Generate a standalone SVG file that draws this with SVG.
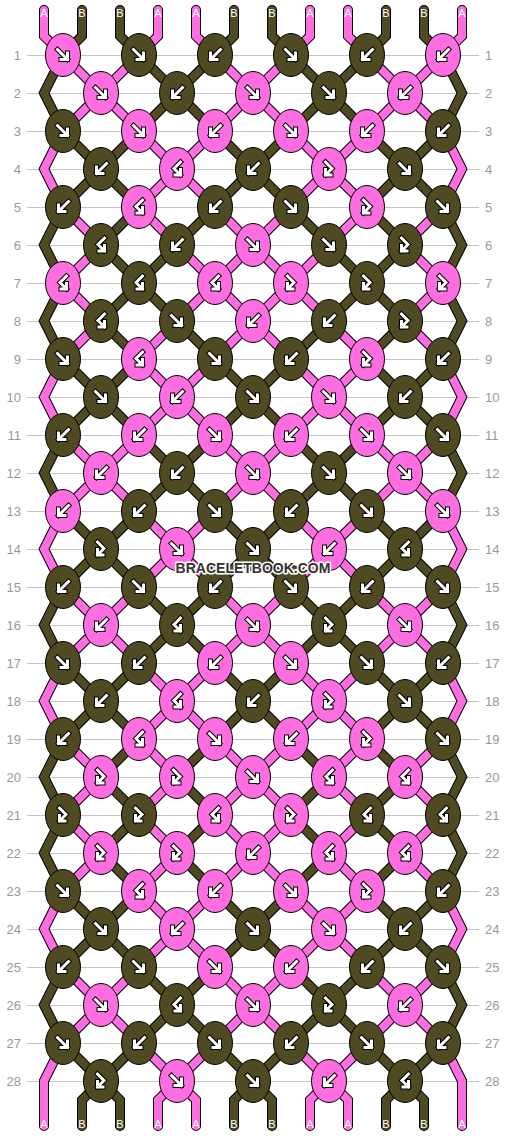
<svg xmlns="http://www.w3.org/2000/svg" xmlns:xlink="http://www.w3.org/1999/xlink" width="506" height="1136" viewBox="0 0 506 1136">
<style>
.num{font-family:"Liberation Sans",Arial,sans-serif;font-size:13px;fill:#999}
.lab{font-family:"Liberation Sans",Arial,sans-serif;font-size:11px;fill:#fff;text-anchor:middle}
.kp{fill:#ff6ee0;stroke:#000;stroke-width:1}
.kd{fill:#4f4a21;stroke:#000;stroke-width:1}
.ab{fill:none;stroke:#000;stroke-width:5;stroke-linecap:square;stroke-linejoin:miter}
.aw{fill:none;stroke:#fff;stroke-width:3;stroke-linecap:square;stroke-linejoin:miter}
</style>
<defs>
<g id="aF"><path class="ab" d="M-5.5 -5.5L4.5 4.5M4.5 -2V4.5H-2"/><path class="aw" d="M-5.5 -5.5L4.5 4.5M4.5 -2V4.5H-2"/></g>
<g id="aFB"><path class="ab" d="M-3.5 -7L3 -0.5L-3.5 6M-3.5 0.5V6H2"/><path class="aw" d="M-3.5 -7L3 -0.5L-3.5 6M-3.5 0.5V6H2"/></g>
<g id="pF"><ellipse class="kp" rx="17.5" ry="21.5"/><use xlink:href="#aF"/></g>
<g id="pB"><ellipse class="kp" rx="17.5" ry="21.5"/><use xlink:href="#aF" transform="scale(-1 1)"/></g>
<g id="pFB"><ellipse class="kp" rx="17.5" ry="21.5"/><use xlink:href="#aFB"/></g>
<g id="pBF"><ellipse class="kp" rx="17.5" ry="21.5"/><use xlink:href="#aFB" transform="scale(-1 1)"/></g>
<g id="dF"><ellipse class="kd" rx="17.5" ry="21.5"/><use xlink:href="#aF"/></g>
<g id="dB"><ellipse class="kd" rx="17.5" ry="21.5"/><use xlink:href="#aF" transform="scale(-1 1)"/></g>
<g id="dFB"><ellipse class="kd" rx="17.5" ry="21.5"/><use xlink:href="#aFB"/></g>
<g id="dBF"><ellipse class="kd" rx="17.5" ry="21.5"/><use xlink:href="#aFB" transform="scale(-1 1)"/></g>
<polyline id="s0" points="44,10 44,36 63,55 101,93 139,131 177,169 139,207 177,245 215,283 177,321 139,359 177,397 215,435 253,473 291,511 329,549 367,587 405,625 443,663 462,701 443,739 405,777 443,815 405,853 443,891 462,929 443,967 405,1005 367,1043 329,1081 310,1100 310,1126"/>
<polyline id="s1" points="82,10 82,36 63,55 44,93 63,131 101,169 139,207 101,245 139,283 101,321 139,359 101,397 63,435 44,473 63,511 101,549 63,587 44,625 63,663 101,701 139,739 101,777 139,815 101,853 139,891 101,929 63,967 44,1005 63,1043 101,1081 82,1100 82,1126"/>
<polyline id="s2" points="120,10 120,36 139,55 177,93 215,131 253,169 291,207 329,245 367,283 329,321 291,359 253,397 215,435 177,473 139,511 101,549 139,587 177,625 139,663 101,701 63,739 44,777 63,815 44,853 63,891 101,929 139,967 177,1005 139,1043 101,1081 120,1100 120,1126"/>
<polyline id="s3" points="158,10 158,36 139,55 101,93 63,131 44,169 63,207 101,245 63,283 101,321 63,359 44,397 63,435 101,473 139,511 177,549 215,587 253,625 291,663 329,701 291,739 253,777 215,815 253,853 291,891 329,929 367,967 405,1005 443,1043 462,1081 462,1126"/>
<polyline id="s4" points="196,10 196,36 215,55 253,93 291,131 329,169 291,207 253,245 215,283 253,321 291,359 329,397 367,435 405,473 443,511 462,549 443,587 405,625 367,663 329,701 367,739 329,777 367,815 329,853 367,891 329,929 291,967 253,1005 215,1043 177,1081 158,1100 158,1126"/>
<polyline id="s5" points="234,10 234,36 215,55 177,93 139,131 101,169 63,207 44,245 63,283 44,321 63,359 101,397 139,435 177,473 215,511 253,549 291,587 329,625 291,663 253,701 215,739 177,777 215,815 177,853 215,891 253,929 291,967 329,1005 291,1043 253,1081 234,1100 234,1126"/>
<polyline id="s6" points="272,10 272,36 291,55 329,93 367,131 405,169 443,207 462,245 443,283 462,321 443,359 405,397 367,435 329,473 291,511 253,549 215,587 177,625 215,663 253,701 291,739 329,777 291,815 329,853 291,891 253,929 215,967 177,1005 215,1043 253,1081 272,1100 272,1126"/>
<polyline id="s7" points="310,10 310,36 291,55 253,93 215,131 177,169 215,207 253,245 291,283 253,321 215,359 177,397 139,435 101,473 63,511 44,549 63,587 101,625 139,663 177,701 139,739 177,777 139,815 177,853 139,891 177,929 215,967 253,1005 291,1043 329,1081 348,1100 348,1126"/>
<polyline id="s8" points="348,10 348,36 367,55 405,93 443,131 462,169 443,207 405,245 443,283 405,321 443,359 462,397 443,435 405,473 367,511 329,549 291,587 253,625 215,663 177,701 215,739 253,777 291,815 253,853 215,891 177,929 139,967 101,1005 63,1043 44,1081 44,1126"/>
<polyline id="s9" points="386,10 386,36 367,55 329,93 291,131 253,169 215,207 177,245 139,283 177,321 215,359 253,397 291,435 329,473 367,511 405,549 367,587 329,625 367,663 405,701 443,739 462,777 443,815 462,853 443,891 405,929 367,967 329,1005 367,1043 405,1081 386,1100 386,1126"/>
<polyline id="s10" points="424,10 424,36 443,55 462,93 443,131 405,169 367,207 405,245 367,283 405,321 367,359 405,397 443,435 462,473 443,511 405,549 443,587 462,625 443,663 405,701 367,739 405,777 367,815 405,853 367,891 405,929 443,967 462,1005 443,1043 405,1081 424,1100 424,1126"/>
<polyline id="s11" points="462,10 462,36 443,55 405,93 367,131 329,169 367,207 329,245 291,283 329,321 367,359 329,397 291,435 253,473 215,511 177,549 139,587 101,625 63,663 44,701 63,739 101,777 63,815 101,853 63,891 44,929 63,967 101,1005 139,1043 177,1081 196,1100 196,1126"/>
</defs>
<rect width="506" height="1136" fill="#fff"/>
<g id="grid">
<path stroke="#c4c4c4" stroke-width="1" fill="none" d="M27 55.5H479M27 93.5H479M27 131.5H479M27 169.5H479M27 207.5H479M27 245.5H479M27 283.5H479M27 321.5H479M27 359.5H479M27 397.5H479M27 435.5H479M27 473.5H479M27 511.5H479M27 549.5H479M27 587.5H479M27 625.5H479M27 663.5H479M27 701.5H479M27 739.5H479M27 777.5H479M27 815.5H479M27 853.5H479M27 891.5H479M27 929.5H479M27 967.5H479M27 1005.5H479M27 1043.5H479M27 1081.5H479"/>
<g class="num" text-anchor="end">
<text x="21" y="60">1</text><text x="21" y="98">2</text><text x="21" y="136">3</text><text x="21" y="174">4</text><text x="21" y="212">5</text><text x="21" y="250">6</text><text x="21" y="288">7</text><text x="21" y="326">8</text><text x="21" y="364">9</text><text x="21" y="402">10</text><text x="21" y="440">11</text><text x="21" y="478">12</text><text x="21" y="516">13</text><text x="21" y="554">14</text><text x="21" y="592">15</text><text x="21" y="630">16</text><text x="21" y="668">17</text><text x="21" y="706">18</text><text x="21" y="744">19</text><text x="21" y="782">20</text><text x="21" y="820">21</text><text x="21" y="858">22</text><text x="21" y="896">23</text><text x="21" y="934">24</text><text x="21" y="972">25</text><text x="21" y="1010">26</text><text x="21" y="1048">27</text><text x="21" y="1086">28</text>
</g>
<g class="num" text-anchor="start">
<text x="485" y="60">1</text><text x="485" y="98">2</text><text x="485" y="136">3</text><text x="485" y="174">4</text><text x="485" y="212">5</text><text x="485" y="250">6</text><text x="485" y="288">7</text><text x="485" y="326">8</text><text x="485" y="364">9</text><text x="485" y="402">10</text><text x="485" y="440">11</text><text x="485" y="478">12</text><text x="485" y="516">13</text><text x="485" y="554">14</text><text x="485" y="592">15</text><text x="485" y="630">16</text><text x="485" y="668">17</text><text x="485" y="706">18</text><text x="485" y="744">19</text><text x="485" y="782">20</text><text x="485" y="820">21</text><text x="485" y="858">22</text><text x="485" y="896">23</text><text x="485" y="934">24</text><text x="485" y="972">25</text><text x="485" y="1010">26</text><text x="485" y="1048">27</text><text x="485" y="1086">28</text>
</g>
</g>
<g id="connectors" fill="none" stroke-linejoin="miter" stroke-linecap="round">
<g stroke="#000" stroke-width="10">
<use xlink:href="#s0"/><use xlink:href="#s1"/><use xlink:href="#s2"/><use xlink:href="#s3"/><use xlink:href="#s4"/><use xlink:href="#s5"/><use xlink:href="#s6"/><use xlink:href="#s7"/><use xlink:href="#s8"/><use xlink:href="#s9"/><use xlink:href="#s10"/><use xlink:href="#s11"/>
</g>
<g stroke-width="8">
<use xlink:href="#s0" stroke="#ff6ee0"/><use xlink:href="#s1" stroke="#4f4a21"/><use xlink:href="#s2" stroke="#4f4a21"/><use xlink:href="#s3" stroke="#ff6ee0"/><use xlink:href="#s4" stroke="#ff6ee0"/><use xlink:href="#s5" stroke="#4f4a21"/><use xlink:href="#s6" stroke="#4f4a21"/><use xlink:href="#s7" stroke="#ff6ee0"/><use xlink:href="#s8" stroke="#ff6ee0"/><use xlink:href="#s9" stroke="#4f4a21"/><use xlink:href="#s10" stroke="#4f4a21"/><use xlink:href="#s11" stroke="#ff6ee0"/>
</g>
</g>
<g id="labels" class="lab">
<text x="44" y="16.5">A</text><text x="82" y="16.5">B</text><text x="120" y="16.5">B</text><text x="158" y="16.5">A</text><text x="196" y="16.5">A</text><text x="234" y="16.5">B</text><text x="272" y="16.5">B</text><text x="310" y="16.5">A</text><text x="348" y="16.5">A</text><text x="386" y="16.5">B</text><text x="424" y="16.5">B</text><text x="462" y="16.5">A</text>
<text x="44" y="1128">A</text><text x="82" y="1128">B</text><text x="120" y="1128">B</text><text x="158" y="1128">A</text><text x="196" y="1128">A</text><text x="234" y="1128">B</text><text x="272" y="1128">B</text><text x="310" y="1128">A</text><text x="348" y="1128">A</text><text x="386" y="1128">B</text><text x="424" y="1128">B</text><text x="462" y="1128">A</text>
</g>
<g id="knots">
<g id="k1-1"><use xlink:href="#pF" x="63" y="55"/></g><g id="k1-2"><use xlink:href="#dF" x="139" y="55"/></g><g id="k1-3"><use xlink:href="#dB" x="215" y="55"/></g><g id="k1-4"><use xlink:href="#dF" x="291" y="55"/></g><g id="k1-5"><use xlink:href="#dB" x="367" y="55"/></g><g id="k1-6"><use xlink:href="#pB" x="443" y="55"/></g>
<g id="k2-1"><use xlink:href="#pF" x="101" y="93"/></g><g id="k2-2"><use xlink:href="#dB" x="177" y="93"/></g><g id="k2-3"><use xlink:href="#pF" x="253" y="93"/></g><g id="k2-4"><use xlink:href="#dF" x="329" y="93"/></g><g id="k2-5"><use xlink:href="#pB" x="405" y="93"/></g>
<g id="k3-1"><use xlink:href="#dF" x="63" y="131"/></g><g id="k3-2"><use xlink:href="#pF" x="139" y="131"/></g><g id="k3-3"><use xlink:href="#pB" x="215" y="131"/></g><g id="k3-4"><use xlink:href="#pF" x="291" y="131"/></g><g id="k3-5"><use xlink:href="#pB" x="367" y="131"/></g><g id="k3-6"><use xlink:href="#dB" x="443" y="131"/></g>
<g id="k4-1"><use xlink:href="#dB" x="101" y="169"/></g><g id="k4-2"><use xlink:href="#pBF" x="177" y="169"/></g><g id="k4-3"><use xlink:href="#dB" x="253" y="169"/></g><g id="k4-4"><use xlink:href="#pFB" x="329" y="169"/></g><g id="k4-5"><use xlink:href="#dF" x="405" y="169"/></g>
<g id="k5-1"><use xlink:href="#dB" x="63" y="207"/></g><g id="k5-2"><use xlink:href="#pBF" x="139" y="207"/></g><g id="k5-3"><use xlink:href="#dB" x="215" y="207"/></g><g id="k5-4"><use xlink:href="#dF" x="291" y="207"/></g><g id="k5-5"><use xlink:href="#pFB" x="367" y="207"/></g><g id="k5-6"><use xlink:href="#dF" x="443" y="207"/></g>
<g id="k6-1"><use xlink:href="#dBF" x="101" y="245"/></g><g id="k6-2"><use xlink:href="#dB" x="177" y="245"/></g><g id="k6-3"><use xlink:href="#pF" x="253" y="245"/></g><g id="k6-4"><use xlink:href="#dF" x="329" y="245"/></g><g id="k6-5"><use xlink:href="#dFB" x="405" y="245"/></g>
<g id="k7-1"><use xlink:href="#pBF" x="63" y="283"/></g><g id="k7-2"><use xlink:href="#dBF" x="139" y="283"/></g><g id="k7-3"><use xlink:href="#pBF" x="215" y="283"/></g><g id="k7-4"><use xlink:href="#pFB" x="291" y="283"/></g><g id="k7-5"><use xlink:href="#dFB" x="367" y="283"/></g><g id="k7-6"><use xlink:href="#pFB" x="443" y="283"/></g>
<g id="k8-1"><use xlink:href="#dBF" x="101" y="321"/></g><g id="k8-2"><use xlink:href="#dF" x="177" y="321"/></g><g id="k8-3"><use xlink:href="#pB" x="253" y="321"/></g><g id="k8-4"><use xlink:href="#dB" x="329" y="321"/></g><g id="k8-5"><use xlink:href="#dFB" x="405" y="321"/></g>
<g id="k9-1"><use xlink:href="#dF" x="63" y="359"/></g><g id="k9-2"><use xlink:href="#pBF" x="139" y="359"/></g><g id="k9-3"><use xlink:href="#dF" x="215" y="359"/></g><g id="k9-4"><use xlink:href="#dB" x="291" y="359"/></g><g id="k9-5"><use xlink:href="#pFB" x="367" y="359"/></g><g id="k9-6"><use xlink:href="#dB" x="443" y="359"/></g>
<g id="k10-1"><use xlink:href="#dF" x="101" y="397"/></g><g id="k10-2"><use xlink:href="#pB" x="177" y="397"/></g><g id="k10-3"><use xlink:href="#dF" x="253" y="397"/></g><g id="k10-4"><use xlink:href="#pF" x="329" y="397"/></g><g id="k10-5"><use xlink:href="#dB" x="405" y="397"/></g>
<g id="k11-1"><use xlink:href="#dB" x="63" y="435"/></g><g id="k11-2"><use xlink:href="#pB" x="139" y="435"/></g><g id="k11-3"><use xlink:href="#pF" x="215" y="435"/></g><g id="k11-4"><use xlink:href="#pB" x="291" y="435"/></g><g id="k11-5"><use xlink:href="#pF" x="367" y="435"/></g><g id="k11-6"><use xlink:href="#dF" x="443" y="435"/></g>
<g id="k12-1"><use xlink:href="#pB" x="101" y="473"/></g><g id="k12-2"><use xlink:href="#dB" x="177" y="473"/></g><g id="k12-3"><use xlink:href="#pF" x="253" y="473"/></g><g id="k12-4"><use xlink:href="#dF" x="329" y="473"/></g><g id="k12-5"><use xlink:href="#pF" x="405" y="473"/></g>
<g id="k13-1"><use xlink:href="#pB" x="63" y="511"/></g><g id="k13-2"><use xlink:href="#dB" x="139" y="511"/></g><g id="k13-3"><use xlink:href="#dF" x="215" y="511"/></g><g id="k13-4"><use xlink:href="#dB" x="291" y="511"/></g><g id="k13-5"><use xlink:href="#dF" x="367" y="511"/></g><g id="k13-6"><use xlink:href="#pF" x="443" y="511"/></g>
<g id="k14-1"><use xlink:href="#dFB" x="101" y="549"/></g><g id="k14-2"><use xlink:href="#pF" x="177" y="549"/></g><g id="k14-3"><use xlink:href="#dF" x="253" y="549"/></g><g id="k14-4"><use xlink:href="#pB" x="329" y="549"/></g><g id="k14-5"><use xlink:href="#dBF" x="405" y="549"/></g>
<g id="k15-1"><use xlink:href="#dB" x="63" y="587"/></g><g id="k15-2"><use xlink:href="#dF" x="139" y="587"/></g><g id="k15-3"><use xlink:href="#dB" x="215" y="587"/></g><g id="k15-4"><use xlink:href="#dF" x="291" y="587"/></g><g id="k15-5"><use xlink:href="#dB" x="367" y="587"/></g><g id="k15-6"><use xlink:href="#dF" x="443" y="587"/></g>
<g id="k16-1"><use xlink:href="#pB" x="101" y="625"/></g><g id="k16-2"><use xlink:href="#dBF" x="177" y="625"/></g><g id="k16-3"><use xlink:href="#pF" x="253" y="625"/></g><g id="k16-4"><use xlink:href="#dFB" x="329" y="625"/></g><g id="k16-5"><use xlink:href="#pF" x="405" y="625"/></g>
<g id="k17-1"><use xlink:href="#dF" x="63" y="663"/></g><g id="k17-2"><use xlink:href="#dB" x="139" y="663"/></g><g id="k17-3"><use xlink:href="#pB" x="215" y="663"/></g><g id="k17-4"><use xlink:href="#pF" x="291" y="663"/></g><g id="k17-5"><use xlink:href="#dF" x="367" y="663"/></g><g id="k17-6"><use xlink:href="#dB" x="443" y="663"/></g>
<g id="k18-1"><use xlink:href="#dB" x="101" y="701"/></g><g id="k18-2"><use xlink:href="#pBF" x="177" y="701"/></g><g id="k18-3"><use xlink:href="#dB" x="253" y="701"/></g><g id="k18-4"><use xlink:href="#pFB" x="329" y="701"/></g><g id="k18-5"><use xlink:href="#dF" x="405" y="701"/></g>
<g id="k19-1"><use xlink:href="#dB" x="63" y="739"/></g><g id="k19-2"><use xlink:href="#pBF" x="139" y="739"/></g><g id="k19-3"><use xlink:href="#pF" x="215" y="739"/></g><g id="k19-4"><use xlink:href="#pB" x="291" y="739"/></g><g id="k19-5"><use xlink:href="#pFB" x="367" y="739"/></g><g id="k19-6"><use xlink:href="#dF" x="443" y="739"/></g>
<g id="k20-1"><use xlink:href="#pFB" x="101" y="777"/></g><g id="k20-2"><use xlink:href="#pFB" x="177" y="777"/></g><g id="k20-3"><use xlink:href="#pF" x="253" y="777"/></g><g id="k20-4"><use xlink:href="#pBF" x="329" y="777"/></g><g id="k20-5"><use xlink:href="#pBF" x="405" y="777"/></g>
<g id="k21-1"><use xlink:href="#dFB" x="63" y="815"/></g><g id="k21-2"><use xlink:href="#dFB" x="139" y="815"/></g><g id="k21-3"><use xlink:href="#pBF" x="215" y="815"/></g><g id="k21-4"><use xlink:href="#pFB" x="291" y="815"/></g><g id="k21-5"><use xlink:href="#dBF" x="367" y="815"/></g><g id="k21-6"><use xlink:href="#dBF" x="443" y="815"/></g>
<g id="k22-1"><use xlink:href="#pFB" x="101" y="853"/></g><g id="k22-2"><use xlink:href="#pFB" x="177" y="853"/></g><g id="k22-3"><use xlink:href="#pB" x="253" y="853"/></g><g id="k22-4"><use xlink:href="#pBF" x="329" y="853"/></g><g id="k22-5"><use xlink:href="#pBF" x="405" y="853"/></g>
<g id="k23-1"><use xlink:href="#dF" x="63" y="891"/></g><g id="k23-2"><use xlink:href="#pBF" x="139" y="891"/></g><g id="k23-3"><use xlink:href="#pB" x="215" y="891"/></g><g id="k23-4"><use xlink:href="#pF" x="291" y="891"/></g><g id="k23-5"><use xlink:href="#pFB" x="367" y="891"/></g><g id="k23-6"><use xlink:href="#dB" x="443" y="891"/></g>
<g id="k24-1"><use xlink:href="#dF" x="101" y="929"/></g><g id="k24-2"><use xlink:href="#pB" x="177" y="929"/></g><g id="k24-3"><use xlink:href="#dF" x="253" y="929"/></g><g id="k24-4"><use xlink:href="#pF" x="329" y="929"/></g><g id="k24-5"><use xlink:href="#dB" x="405" y="929"/></g>
<g id="k25-1"><use xlink:href="#dB" x="63" y="967"/></g><g id="k25-2"><use xlink:href="#dF" x="139" y="967"/></g><g id="k25-3"><use xlink:href="#pF" x="215" y="967"/></g><g id="k25-4"><use xlink:href="#pB" x="291" y="967"/></g><g id="k25-5"><use xlink:href="#dB" x="367" y="967"/></g><g id="k25-6"><use xlink:href="#dF" x="443" y="967"/></g>
<g id="k26-1"><use xlink:href="#pF" x="101" y="1005"/></g><g id="k26-2"><use xlink:href="#dBF" x="177" y="1005"/></g><g id="k26-3"><use xlink:href="#pF" x="253" y="1005"/></g><g id="k26-4"><use xlink:href="#dFB" x="329" y="1005"/></g><g id="k26-5"><use xlink:href="#pB" x="405" y="1005"/></g>
<g id="k27-1"><use xlink:href="#dF" x="63" y="1043"/></g><g id="k27-2"><use xlink:href="#dB" x="139" y="1043"/></g><g id="k27-3"><use xlink:href="#dF" x="215" y="1043"/></g><g id="k27-4"><use xlink:href="#dB" x="291" y="1043"/></g><g id="k27-5"><use xlink:href="#dF" x="367" y="1043"/></g><g id="k27-6"><use xlink:href="#dB" x="443" y="1043"/></g>
<g id="k28-1"><use xlink:href="#dFB" x="101" y="1081"/></g><g id="k28-2"><use xlink:href="#pF" x="177" y="1081"/></g><g id="k28-3"><use xlink:href="#dF" x="253" y="1081"/></g><g id="k28-4"><use xlink:href="#pB" x="329" y="1081"/></g><g id="k28-5"><use xlink:href="#dBF" x="405" y="1081"/></g>
</g>
<text id="watermark" x="253" y="573" text-anchor="middle" font-family="'Liberation Sans',Arial,sans-serif" font-weight="bold" font-size="14" fill="#333" stroke="#fff" stroke-width="3" stroke-linejoin="round" paint-order="stroke">BRACELETBOOK.COM</text>
</svg>
